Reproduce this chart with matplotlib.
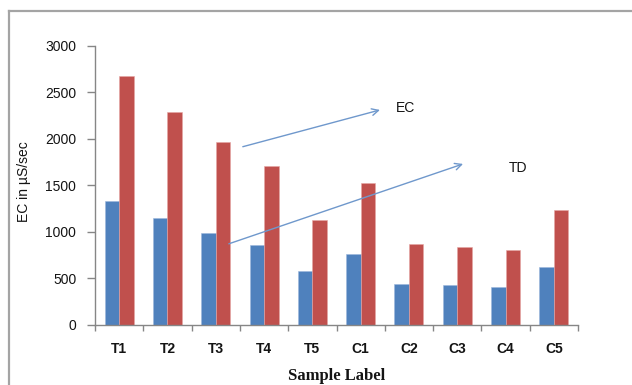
import matplotlib
matplotlib.use("Agg")
import matplotlib.pyplot as plt
import numpy as np
from matplotlib.lines import Line2D

# Sample labels and measured values
samples = ["T1", "T2", "T3", "T4", "T5", "C1", "C2", "C3", "C4", "C5"]
td_values = [1335, 1145, 985, 860, 580, 765, 445, 428, 410, 622]
ec_values = [2675, 2290, 1965, 1705, 1132, 1528, 872, 842, 808, 1236]
y_ticks = [0, 500, 1000, 1500, 2000, 2500, 3000]

blue = "#4F81BD"
red = "#C0504D"
axis_grey = "#868686"
text_col = "#141414"

W, H = 632, 385
fig = plt.figure(figsize=(W / 100, H / 100), dpi=100)
ax = fig.add_axes([95 / W, 60 / H, 483 / W, 279.3 / H])

# Outer chart frame (left and top edges)
frame_kw = dict(transform=fig.transFigure, color="#a4a4a4", linewidth=1.6)
fig.add_artist(Line2D([8.5 / W, 8.5 / W], [0, 1 - 10.5 / H], **frame_kw))
fig.add_artist(Line2D([8.5 / W, 1], [1 - 10.5 / H, 1 - 10.5 / H], **frame_kw))

x = np.arange(len(samples))
w = 0.3
ax.bar(x - w / 2, td_values, width=w, color=blue, edgecolor="#9db7dc", linewidth=0.4)
ax.bar(x + w / 2, ec_values, width=w, color=red, edgecolor="#e6a6a4", linewidth=0.4)

ax.set_xlim(-0.5, len(samples) - 0.5)
ax.set_ylim(0, 3000)
ax.set_yticks(y_ticks)
ax.set_yticklabels([str(v) for v in y_ticks], fontsize=10,
                   family="Liberation Sans", color=text_col)
ax.set_xticks(x)
ax.set_xticklabels(samples, fontsize=10, fontweight="bold",
                   family="Liberation Sans", color=text_col)
ax.set_xticks(np.arange(-0.5, len(samples)), minor=True)

for side in ("top", "right"):
    ax.spines[side].set_visible(False)
for side in ("left", "bottom"):
    ax.spines[side].set_color(axis_grey)
    ax.spines[side].set_linewidth(1.0)

ax.tick_params(axis="y", direction="out", length=6, width=1.0,
               color=axis_grey, pad=7.5)
ax.tick_params(axis="x", which="major", length=0, pad=12.5)
ax.tick_params(axis="x", which="minor", direction="out", length=4,
               width=1.0, color=axis_grey)

fig.text(24 / W, 1 - 182 / H, "EC in µS/sec", rotation=90, fontsize=10,
         family="Liberation Sans", color=text_col, ha="center", va="center")
fig.text(337 / W, 1 - 376 / H, "Sample Label", fontsize=12, fontweight="bold",
         family="Liberation Serif", color=text_col, ha="center", va="center")

# Callout arrows for the two series
arrow_style = dict(arrowstyle="->", color="#6f98cc", lw=1.0,
                   mutation_scale=12, shrinkA=0, shrinkB=0)
ax.annotate("", xy=(5.40, 2310), xytext=(2.56, 1915), arrowprops=arrow_style)
ax.annotate("", xy=(7.12, 1730), xytext=(2.27, 872), arrowprops=arrow_style)
ax.text(5.72, 2336, "EC", fontsize=10, family="Liberation Sans",
        color=text_col, va="center", ha="left")
ax.text(8.06, 1690, "TD", fontsize=10, family="Liberation Sans",
        color=text_col, va="center", ha="left")

fig.savefig("out.png", dpi=100)
